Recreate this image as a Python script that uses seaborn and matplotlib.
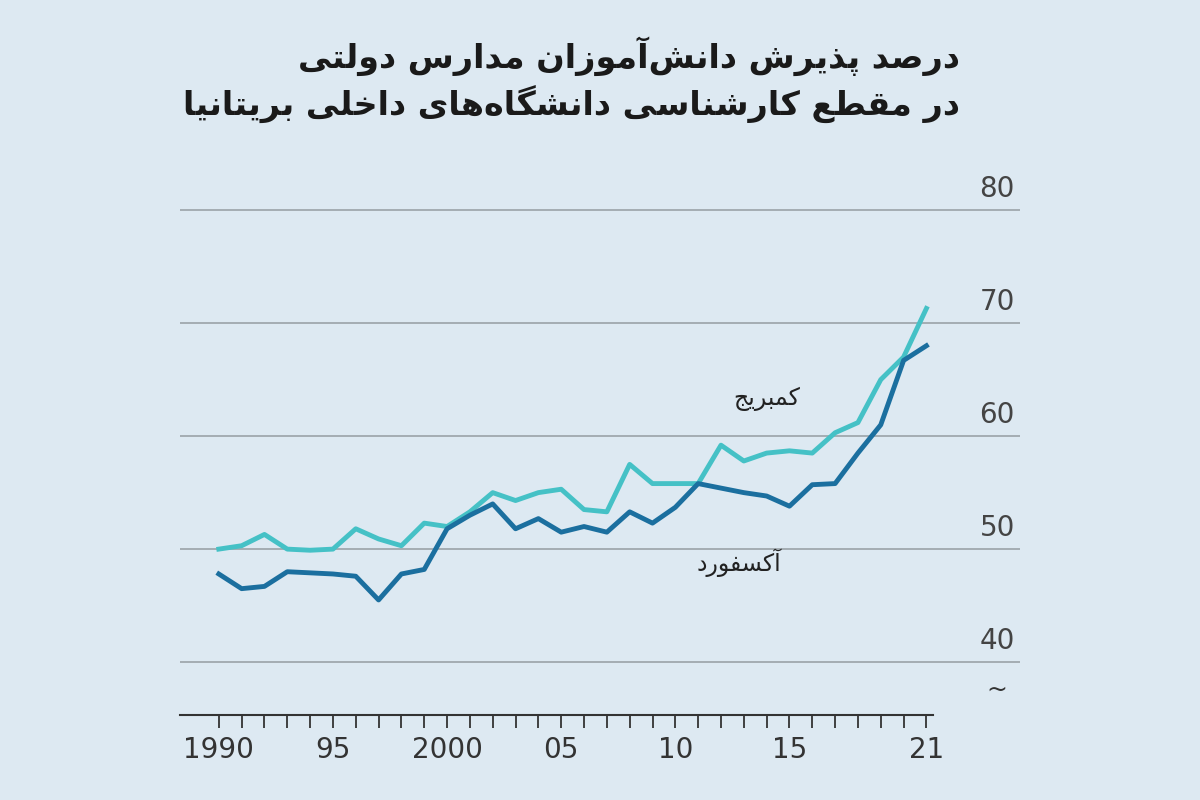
import unicodedata
import pandas as pd
import matplotlib
matplotlib.use("Agg")
import matplotlib.pyplot as plt
import seaborn as sns

YEARS = list(range(1990, 2022))
CAMBRIDGE = [50.0, 50.3, 51.3, 50.0, 49.9, 50.0, 51.8, 50.9, 50.3, 52.3, 52.0, 53.3,
             55.0, 54.3, 55.0, 55.3, 53.5, 53.3, 57.5, 55.8, 55.8, 55.8, 59.2, 57.8,
             58.5, 58.7, 58.5, 60.3, 61.2, 65.0, 67.0, 71.3]
OXFORD = [47.8, 46.5, 46.7, 48.0, 47.9, 47.8, 47.6, 45.5, 47.8, 48.2, 51.8, 53.0,
          54.0, 51.8, 52.7, 51.5, 52.0, 51.5, 53.3, 52.3, 53.7, 55.8, 55.4, 55.0,
          54.7, 53.8, 55.7, 55.8, 58.5, 61.0, 66.7, 68.0]
Y_TICKS = [40, 50, 60, 70, 80]
X_LABELS = {1990: "1990", 1995: "95", 2000: "2000", 2005: "05", 2010: "10", 2015: "15", 2021: "21"}
TITLE = ["درصد پذیرش دانش‌آموزان مدارس دولتی", "در مقطع کارشناسی دانشگاه‌های داخلی بریتانیا"]
LBL_CAM = "کمبریج"
LBL_OX = "آکسفورد"

RIGHT_ONLY = set("اآدذرزژوةأإؤ")


def _form(ch, form):
    try:
        return unicodedata.lookup(unicodedata.name(ch) + " " + form + " FORM")
    except (KeyError, ValueError):
        return None


def shape(text):
    """Minimal Arabic/Persian shaping + reversal for matplotlib."""
    text = text.replace("\u200c", "\u200b")

    def is_letter(c):
        return bool(c) and unicodedata.name(c, "").startswith("ARABIC LETTER")

    out = []
    for i, c in enumerate(text):
        if not is_letter(c):
            out.append(c)
            continue
        prev = text[i - 1] if i > 0 else ""
        nxt = text[i + 1] if i + 1 < len(text) else ""
        jp = is_letter(prev) and prev not in RIGHT_ONLY
        jn = is_letter(nxt) and c not in RIGHT_ONLY
        form = {(True, True): "MEDIAL", (True, False): "FINAL",
                (False, True): "INITIAL", (False, False): "ISOLATED"}[(jp, jn)]
        f = _form(c, form) or (_form(c, "FINAL") if jp else None) or _form(c, "ISOLATED") or c
        out.append(f)
    return "".join(reversed(out)).replace("\u200b", "")


df = pd.DataFrame({"year": YEARS * 2, "value": CAMBRIDGE + OXFORD,
                   "uni": ["cam"] * len(YEARS) + ["ox"] * len(YEARS)})

bg = "#dde9f2"
fig = plt.figure(figsize=(12, 8), dpi=100, facecolor=bg)
ax = fig.add_axes([0.15, 0.106, 0.70, 0.644], facecolor=bg)

for y in Y_TICKS:
    ax.axhline(y, color="#a0a8ae", lw=1.3, zorder=1)
sns.lineplot(data=df, x="year", y="value", hue="uni", palette={"cam": "#45c1c6", "ox": "#1b6f9f"},
             lw=3.5, legend=False, ax=ax, zorder=3)

ax.set_xlim(1988.3, 2025.1)
ax.set_ylim(35.3, 80.9)
for s in ["top", "right", "left"]:
    ax.spines[s].set_visible(False)
ax.spines["bottom"].set_bounds(1988.3, 2021.3)
ax.spines["bottom"].set_color("#333333")
ax.spines["bottom"].set_linewidth(1.5)
ax.set_xticks(YEARS)
ax.set_xticklabels([X_LABELS.get(y, "") for y in YEARS], fontsize=20, color="#333333")
ax.tick_params(axis="x", length=9, width=1.3, color="#333333", pad=6)
ax.set_yticks([])
ax.set_xlabel("")
ax.set_ylabel("")
for y in Y_TICKS:
    ax.text(2024.1, y + 0.6, str(y), fontsize=20, color="#444444", ha="center", va="bottom")
ax.text(2024.1, 37.6, "~", fontsize=18, color="#333333", ha="center", va="center")

ax.text(2014.0, 63.3, shape(LBL_CAM), fontsize=17, color="#222222", ha="center", va="center")
ax.text(2012.8, 48.8, shape(LBL_OX), fontsize=17, color="#222222", ha="center", va="center")

fig.text(0.80, 0.93, shape(TITLE[0]), fontsize=24, fontweight="bold", ha="right", va="center", color="#1a1a1a")
fig.text(0.80, 0.87, shape(TITLE[1]), fontsize=24, fontweight="bold", ha="right", va="center", color="#1a1a1a")

fig.savefig("out.png", dpi=100, facecolor=bg)
